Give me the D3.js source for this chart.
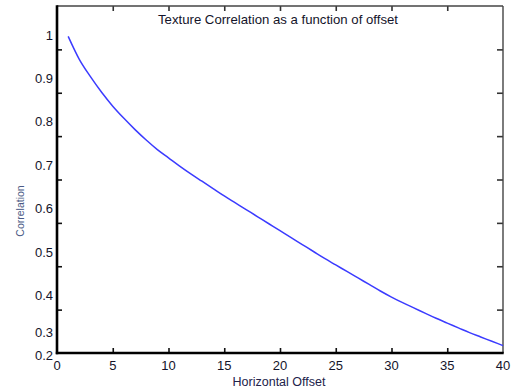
<!DOCTYPE html>
<html>
<head>
<meta charset="utf-8">
<script src="https://cdn.jsdelivr.net/npm/d3@7"></script>
<style>
  html, body { margin: 0; padding: 0; background: #fff; }
  svg { display: block; font-family: "Liberation Sans", Arial, sans-serif; }
</style>
</head>
<body>
<svg id="chart" width="513" height="391"></svg>
<script>
// ---- data ----
const offsets = d3.range(1, 41);
const correlation = [
  0.930, 0.877, 0.837, 0.801, 0.769, 0.741, 0.715, 0.691, 0.669, 0.650,
  0.631, 0.613, 0.596, 0.579, 0.562, 0.546, 0.530, 0.514, 0.498, 0.482,
  0.466, 0.450, 0.434, 0.418, 0.403, 0.388, 0.373, 0.358, 0.343, 0.329,
  0.316, 0.304, 0.292, 0.280, 0.269, 0.258, 0.247, 0.237, 0.227, 0.217
];
const xTicks = [0, 5, 10, 15, 20, 25, 30, 35, 40];
const yTicks = [0.2, 0.3, 0.4, 0.5, 0.6, 0.7, 0.8, 0.9, 1.0];
const yTickLabels = ["0.2", "0.3", "0.4", "0.5", "0.6", "0.7", "0.8", "0.9", "1"];
const titleText = "Texture Correlation as a function of offset";
const xLabelText = "Horizontal Offset";
const yLabelText = "Correlation";

// ---- layout ----
const L = 57, R = 503, T = 6, B = 353;
const svg = d3.select("#chart");

const x = d3.scaleLinear().domain([0, 40]).range([L, R]);
const y = d3.scaleLinear().domain([0.2, 1.0]).range([B, T]);
// the tick labels in the picture sit lower than their tick marks
const labelShift = d3.scaleLinear().domain([0.2, 0.3, 0.4]).range([2, 23, 29]).clamp(true);

// tick marks
const innerY = yTicks.slice(1, -1);
const innerX = xTicks.slice(1, -1);
svg.append("g").attr("transform", `translate(${L},0)`)
  .call(d3.axisRight(y).tickValues(innerY).tickSize(5).tickFormat(""))
  .call(g => g.select(".domain").remove())
  .call(g => g.selectAll("line").attr("stroke", "#111").attr("stroke-width", 1.6));
svg.append("g").attr("transform", `translate(${R},0)`)
  .call(d3.axisLeft(y).tickValues(innerY).tickSize(6).tickFormat(""))
  .call(g => g.select(".domain").remove())
  .call(g => g.selectAll("line").attr("stroke", "#333").attr("stroke-width", 1.6));
svg.append("g").attr("transform", `translate(0,${B})`)
  .call(d3.axisTop(x).tickValues(innerX).tickSize(5).tickFormat(""))
  .call(g => g.select(".domain").remove())
  .call(g => g.selectAll("line").attr("stroke", "#111").attr("stroke-width", 1.6));
svg.append("g").attr("transform", `translate(0,${T})`)
  .call(d3.axisBottom(x).tickValues(innerX).tickSize(5).tickFormat(""))
  .call(g => g.select(".domain").remove())
  .call(g => g.selectAll("line").attr("stroke", "#333").attr("stroke-width", 1.6));

// frame
svg.append("line").attr("x1", L).attr("x2", R).attr("y1", T).attr("y2", T)
  .attr("stroke", "#444").attr("stroke-width", 1.4);
svg.append("line").attr("x1", R).attr("x2", R).attr("y1", T).attr("y2", B)
  .attr("stroke", "#444").attr("stroke-width", 1.4);
svg.append("line").attr("x1", L).attr("x2", L).attr("y1", T - 0.7).attr("y2", B + 1.2)
  .attr("stroke", "#000").attr("stroke-width", 2.6);
svg.append("line").attr("x1", L - 1.2).attr("x2", R + 0.7).attr("y1", B).attr("y2", B)
  .attr("stroke", "#000").attr("stroke-width", 2.6);

// y tick labels
svg.append("g").selectAll("text").data(yTicks).join("text")
  .attr("x", L - 4)
  .attr("y", d => y(d) + labelShift(d))
  .attr("dy", "0.36em")
  .attr("text-anchor", "end")
  .attr("font-size", 13)
  .attr("fill", "#14142a")
  .text((d, i) => yTickLabels[i]);

// x tick labels
svg.append("g").selectAll("text").data(xTicks).join("text")
  .attr("x", d => x(d))
  .attr("y", 370)
  .attr("text-anchor", "middle")
  .attr("font-size", 13)
  .attr("fill", "#14142a")
  .text(d => d);

// title
svg.append("text").attr("x", 278).attr("y", 24)
  .attr("text-anchor", "middle").attr("font-size", 13)
  .attr("textLength", 240).attr("lengthAdjust", "spacingAndGlyphs")
  .attr("fill", "#14142a").text(titleText);

// axis labels
svg.append("text").attr("x", 279).attr("y", 386)
  .attr("text-anchor", "middle").attr("font-size", 12.5)
  .attr("fill", "#22224a").text(xLabelText);
svg.append("text")
  .attr("transform", `translate(24,211) rotate(-90)`)
  .attr("text-anchor", "middle").attr("font-size", 10.5)
  .attr("fill", "#4a5a85").text(yLabelText);

// curve
const line = d3.line()
  .x((d, i) => x(offsets[i]))
  .y(d => y(d))
  .curve(d3.curveMonotoneX);
svg.append("path").datum(correlation)
  .attr("d", line)
  .attr("fill", "none")
  .attr("stroke", "#3b3bff")
  .attr("stroke-width", 1.5);
</script>
</body>
</html>
